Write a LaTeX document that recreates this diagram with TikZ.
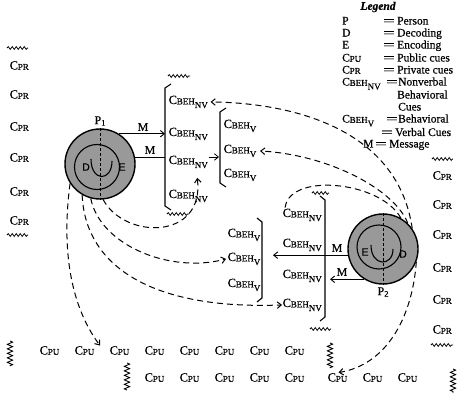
\documentclass[tikz,border=0pt]{standalone}
\usepackage{fontspec}
\setmainfont{Liberation Serif}[FakeBold=0.5]
\setsansfont{Liberation Sans}[FakeBold=0.5]
\usetikzlibrary{arrows.meta,decorations.pathmorphing}
\newcommand{\subf}[1]{{\fontsize{9}{10}\selectfont #1}}
\newcommand{\cpr}{C\kern-0.2pt\raisebox{-0.4pt}{\subf{PR}}}
\newcommand{\cpu}{C\kern-0.2pt\raisebox{-0.4pt}{\subf{PU}}}
\newcommand{\cnv}{C\kern-0.2pt\raisebox{-0.4pt}{\subf{BEH}}\raisebox{-4pt}{\subf{NV}}}
\newcommand{\cbv}{C\kern-0.2pt\raisebox{-0.4pt}{\subf{BEH}}\raisebox{-4pt}{\subf{V}}}
\newcommand{\eqq}{\scalebox{1.8}[1]{=}}
\begin{document}
\begin{tikzpicture}[x=1pt,y=-1pt,
  cue/.style={anchor=base west, inner sep=0.5pt, font=\fontsize{12.5}{14}\selectfont},
  lg/.style={anchor=base west, inner sep=0pt, font=\fontsize{11.5}{13}\selectfont},
  dsh/.style={dash pattern=on 6pt off 4pt, line width=1pt},
  cdsh/.style={dash pattern=on 3pt off 2pt, line width=0.8pt},
  arr/.style={-{Straight Barb[length=4pt,width=6.5pt]}},
  wav/.style={decorate, decoration={snake, segment length=4pt, amplitude=1.4pt}, line width=0.8pt},
  vwav/.style={decorate, decoration={zigzag, segment length=4.5pt, amplitude=2.6pt}, line width=0.9pt},
  brk/.style={line width=1.1pt},
  person/.style={circle, draw, line width=1.4pt, fill=black!40, inner sep=0pt, minimum size=70pt},
  lett/.style={font=\sffamily\fontsize{10.5}{12}\selectfont, inner sep=0.5pt},
  mlab/.style={font=\fontsize{12}{14}\selectfont, inner sep=0.5pt}]
\path[use as bounding box] (0,0) rectangle (474,409);

% ---------- legend ----------
\node[font=\bfseries\itshape\fontsize{11.5}{13}\selectfont, inner sep=0pt] (lgT) at (378,7) {Legend};
\node[lg] (lg1) at (342,24.5) {P};
\node[lg] (lg1e) at (383,24.5) {\eqq};
\node[lg] (lg1t) at (397,24.5) {Person};
\node[lg] (lg2) at (342,36.5) {D};
\node[lg] (lg2e) at (383,36.5) {\eqq};
\node[lg] (lg2t) at (397,36.5) {Decoding};
\node[lg] (lg3) at (342,48.5) {E};
\node[lg] (lg3e) at (383,48.5) {\eqq};
\node[lg] (lg3t) at (397,48.5) {Encoding};
\node[lg] (lg4) at (342,61.5) {\cpu};
\node[lg] (lg4e) at (383,61.5) {\eqq};
\node[lg] (lg4t) at (397,61.5) {Public cues};
\node[lg] (lg5) at (342,73.5) {\cpr};
\node[lg] (lg5e) at (383,73.5) {\eqq};
\node[lg] (lg5t) at (397,73.5) {Private cues};
\node[lg] (lg6) at (342,85.5) {\cnv};
\node[lg] (lg6e) at (386,85.5) {\eqq};
\node[lg] (lg6t) at (398,85.5) {Nonverbal};
\node[lg] (lg7t) at (397,98.5) {Behavioral};
\node[lg] (lg8t) at (398,110.5) {Cues};
\node[lg] (lg9) at (342,122.5) {\cbv};
\node[lg] (lg9e) at (386,122.5) {\eqq};
\node[lg] (lg9t) at (398,122.5) {Behavioral};
\node[lg] (lg10e) at (381,136) {\eqq};
\node[lg] (lg10t) at (395,136) {Verbal Cues};
\node[lg] (lg11) at (363,147.5) {M};
\node[lg] (lg11e) at (375,147.5) {\eqq};
\node[lg] (lg11t) at (389,147.5) {Message};

% ---------- private cues columns ----------
\foreach \y/\n in {65/1,94/2,126/3,157/4,191/5,220/6}
  \node[cue] (lpr\n) at (9,\y+4.5) {\cpr};
\foreach \y/\n in {175/1,204/2,234/3,267/4,299/5,329/6}
  \node[cue] (rpr\n) at (432,\y+4.5) {\cpr};
\draw[wav] (7,48) -- (28,48);
\draw[wav] (7,235) -- (28,235);
\draw[wav] (432,159) -- (453,159);
\draw[wav] (431,345) -- (453,345);

% ---------- public cues rows ----------
\foreach \x/\n in {39/1,74/2,109/3,144/4,179/5,214/6,249/7,284/8}
  \node[cue] (cpuA\n) at (\x,354.5) {\cpu};
\foreach \x/\n in {144/1,179/2,214/3,249/4,284/5,327/6,362/7,397/8}
  \node[cue] (cpuB\n) at (\x,381.5) {\cpu};
\draw[vwav] (10,341) -- (10,366);
\draw[vwav] (127,363) -- (127,390);
\draw[vwav] (330,343) -- (330,368);
\draw[vwav] (453,369) -- (453,393);

% ---------- bracket 1 (P1 nonverbal) ----------
\foreach \y/\n in {104/1,136/2,164/3,198/4}
  \node[cue] (a\n) at (168,\y) {\cnv};
\coordinate (B1top) at (165,88);
\draw[brk] (171,84) -- (B1top) -- (165,206) -- (171,210);
\draw[wav] (168,76) -- (190,76);
\draw[wav] (167,214) -- (189,214);

% ---------- bracket 2 (P1 verbal) ----------
\foreach \y/\n in {128/1,153/2,177/3}
  \node[cue] (b\n) at (223,\y) {\cbv};
\coordinate (B2in) at (219,157);
\draw[brk] (226,108) -- (220,112) -- (220,183) -- (226,187);
\draw[arr, line width=0.8pt] (a3.east |- B2in) -- (B2in);

% ---------- right bracket (P2 nonverbal) ----------
\foreach \y/\n in {217/1,247/2,278/3,307/4}
  \node[cue] (r\n) at (282,\y) {\cnv};
\draw[brk] (320,196) -- (325,200) -- (325,317) -- (320,321);
\draw[wav] (312,193) -- (329,193);
\draw[wav] (310,329) -- (331,329);

% ---------- lower-left bracket (P2 verbal) ----------
\foreach \y/\n in {237/1,261/2,287/3}
  \node[cue] (l\n) at (227,\y) {\cbv};
\coordinate (LLB) at (262,222);
\draw[brk] (257,218) -- (LLB) -- (262,298) -- (257,302);

% ---------- person 1 ----------
\node[person] (P1) at (100,164) {};
\draw[line width=1.1pt] (97,167) circle[radius=22.5];
\draw[line width=1.1pt] (91,159) .. controls (91,182) and (112,182) .. (112,161);
\draw[cdsh] (P1.north) -- (P1.south);
\node[lett] (D1) at (86,167) {D};
\node[lett] (E1) at (122,167) {E};
\node[mlab] (lblP1) at (100,121) {P\raisebox{-1.5pt}{\fontsize{8.5}{9}\selectfont 1}};

% ---------- person 2 ----------
\node[person] (P2) at (383,249) {};
\draw[line width=1.1pt] (379,247) circle[radius=22];
\draw[line width=1.1pt] (371,245) .. controls (371,267) and (393,267) .. (393,249);
\draw[cdsh] (P2.north) -- (P2.south);
\node[lett] (E2) at (365,252) {E};
\node[lett] (D2) at (403,254) {D};
\node[mlab] (lblP2) at (383,292) {P\raisebox{-1.5pt}{\fontsize{8.5}{9}\selectfont 2}};

% ---------- messages ----------
\draw[arr, line width=0.9pt] (P1.58) -- (P1.58 -| B1top);
\node[mlab] (m1) at (143,127) {M};
\draw[line width=0.9pt] (P1.10) -- (P1.10 -| B1top);
\node[mlab] (m2) at (150,150) {M};
\coordinate (m3end) at (273,255);
\coordinate (m4end) at (330,279);
\draw[arr, line width=0.9pt] (P2.190) -- (P2.190 -| m3end);
\node[mlab] (m3) at (337,248) {M};
\draw[arr, line width=0.9pt] (P2.238) -- (P2.238 -| m4end);
\node[mlab] (m4) at (342,272) {M};

% ---------- dashed feedback curves ----------
% from P1
\draw[dsh, arr] (P1.213) .. controls (60,260) and (75,312) .. ([xshift=-9pt]cpuA3.north west);
\draw[dsh, arr] (P1.240) .. controls (85,265) and (150,310) .. (r4.west);
\draw[dsh, arr] (P1.255) .. controls (100,245) and (170,274) .. ([xshift=-1pt]l2.west);
\draw[dsh, arr] (P1.275) .. controls (125,240) and (205,240) .. ([xshift=9pt,yshift=-9pt]a3.south);
% from P2
\draw[dsh, arr] (P2.35) .. controls (398,130) and (295,103) .. ([xshift=2pt]a1.east);
\draw[dsh, arr] (P2.46) .. controls (395,190) and (330,155) .. ([xshift=3pt]b2.east);
\draw[dsh] (P2.60) .. controls (380,180) and (285,172) .. ([xshift=3pt,yshift=-2pt]r1.north west);
\draw[dsh, arr] (P2.-21) .. controls (412,320) and (385,365) .. ([xshift=1pt]cpuB6.north);
\end{tikzpicture}
\end{document}
